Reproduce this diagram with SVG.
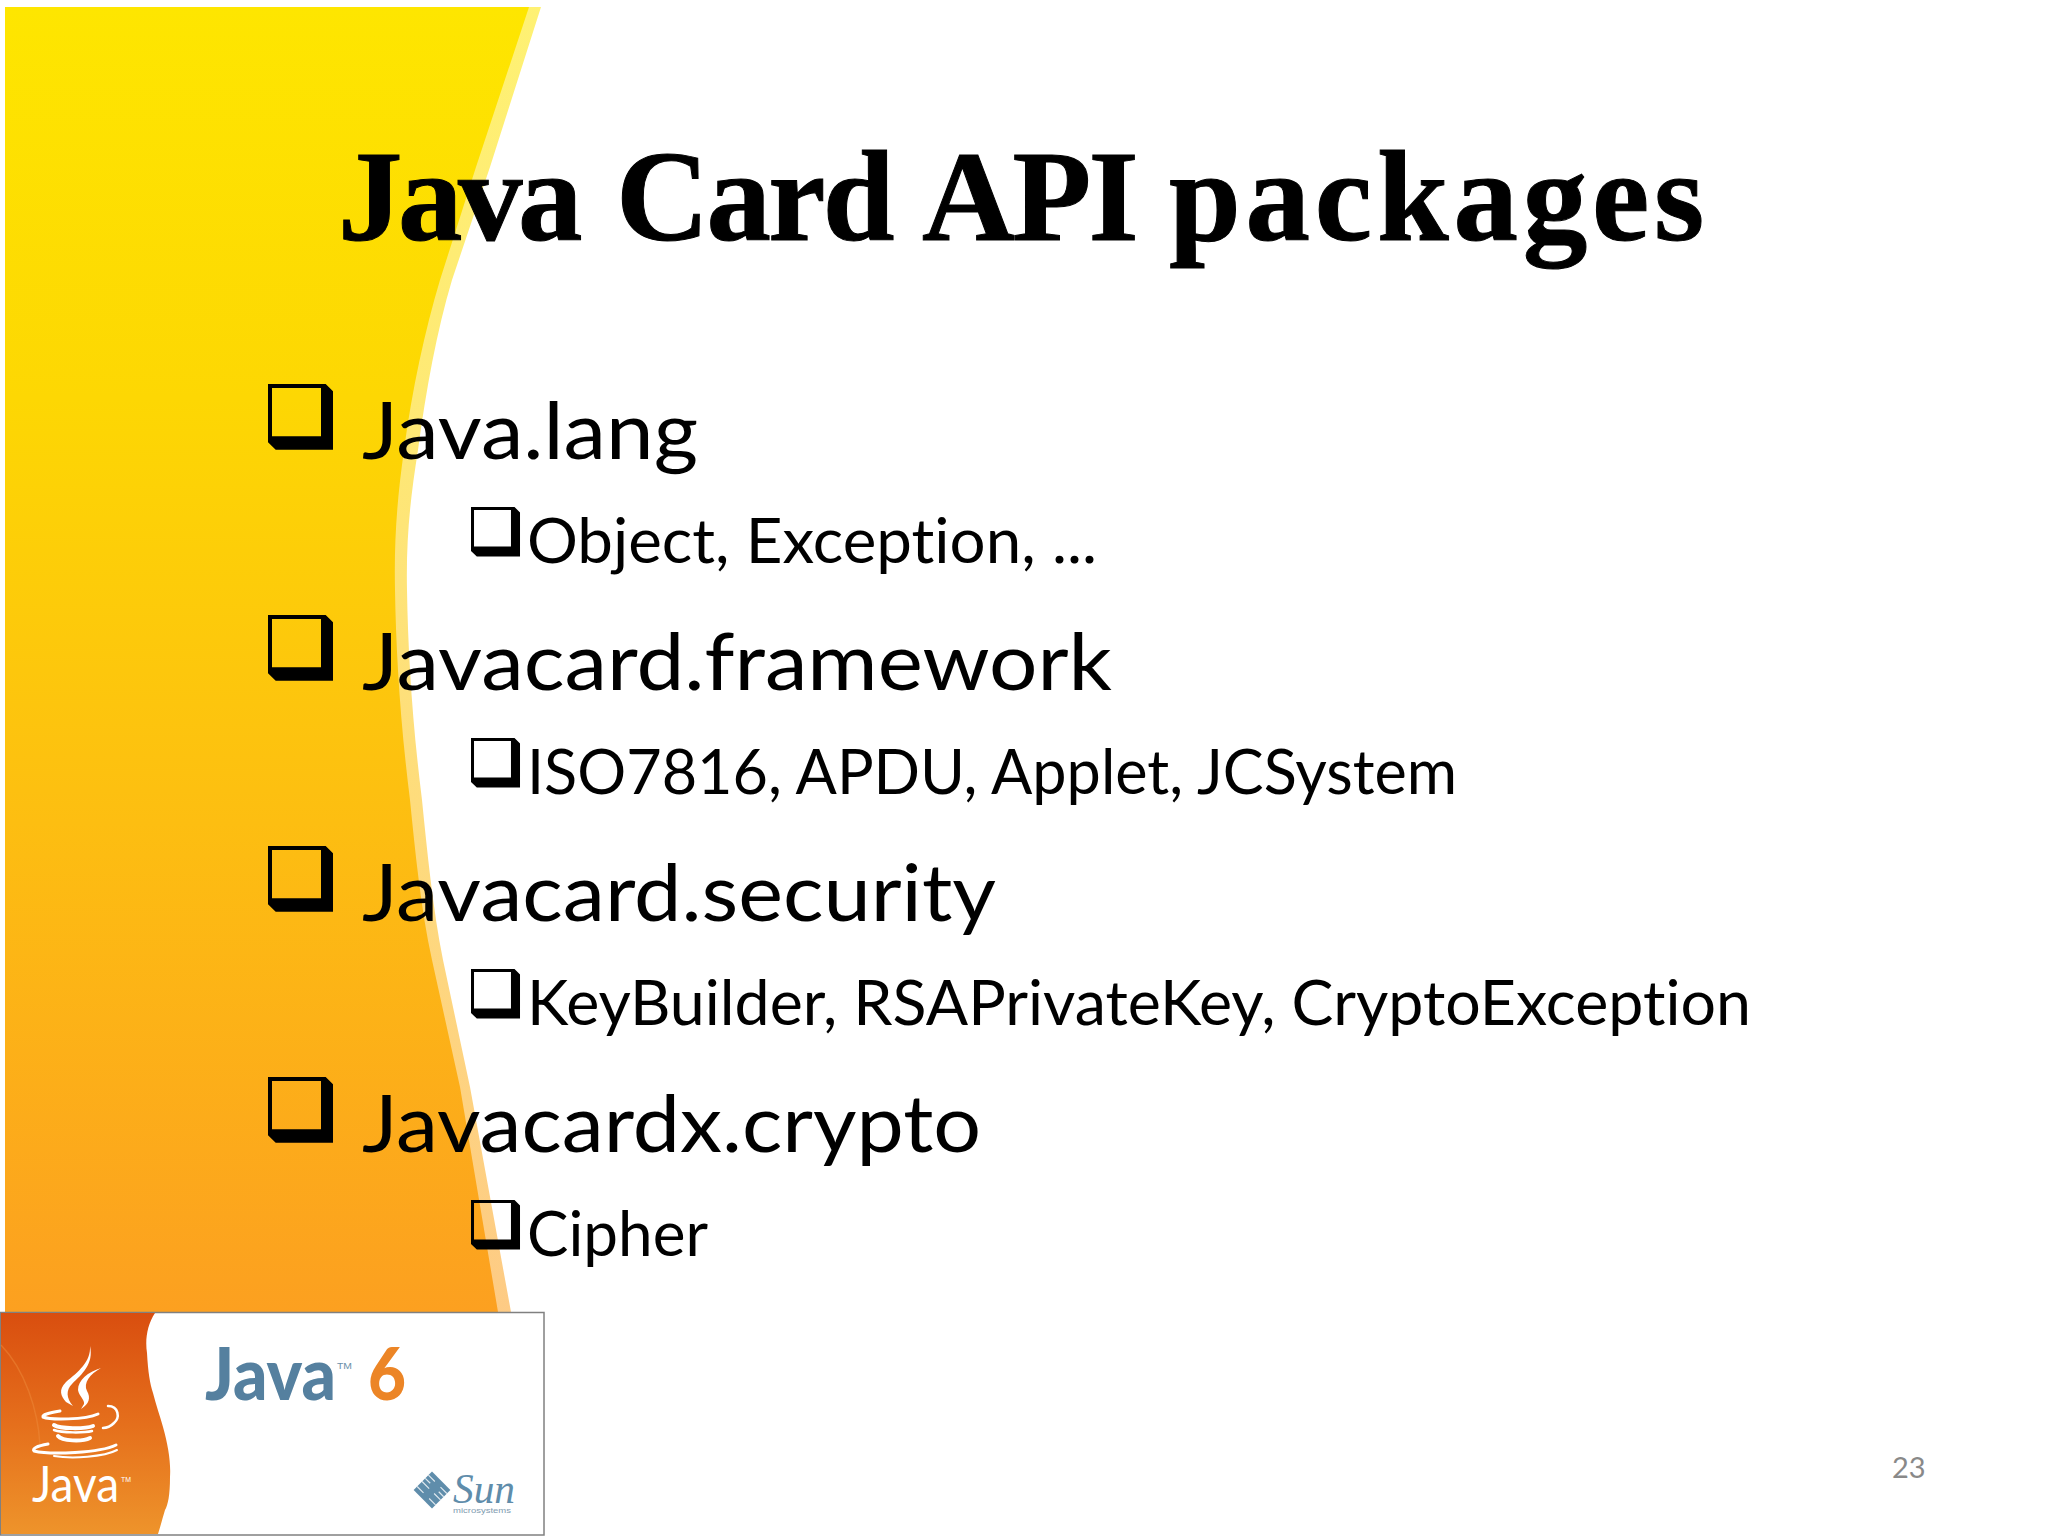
<svg xmlns="http://www.w3.org/2000/svg" width="2048" height="1536" viewBox="0 0 2048 1536">
<style>
.title{font-family:"Liberation Serif",serif;font-weight:700;font-size:129px;fill:#000;stroke:#000;stroke-width:1}
.l1{font-family:Lato,"Liberation Sans",sans-serif;font-size:80px;fill:#000;font-variant-ligatures:none}
.l2{font-family:Lato,"Liberation Sans",sans-serif;font-size:62px;fill:#000;font-variant-ligatures:none}
.num{font-family:Lato,"Liberation Sans",sans-serif;font-size:29px;fill:#898989}
.cw{fill:none;stroke:#fff;stroke-linecap:round}
</style>
<defs>
<linearGradient id="bg" gradientUnits="userSpaceOnUse" x1="0" y1="7" x2="0" y2="1312">
<stop offset="0" stop-color="#fee600"/><stop offset="0.3" stop-color="#fdd703"/><stop offset="0.6" stop-color="#fdc010"/><stop offset="1" stop-color="#fca020"/>
</linearGradient>
<linearGradient id="og" gradientUnits="userSpaceOnUse" x1="0" y1="1313" x2="0" y2="1535">
<stop offset="0" stop-color="#d94e0f"/><stop offset="0.5" stop-color="#e56f1c"/><stop offset="1" stop-color="#ee942b"/>
</linearGradient>
<path id="bx" fill-rule="evenodd" d="M0 0H57.7L65 7.3V65.7H7.7L0 58.3ZM4 4V52.3H53V4Z"/>
</defs>
<rect width="2048" height="1536" fill="#fff"/>
<path d="M5 7H541L490 167L452 280C437 330 426 390 418 450C410 500 406 540 407 590C408 650 412 720 422 800C427 850 433 910 443 960L470 1087L511 1312H5Z" fill="url(#bg)" fill-opacity="0.55"/>
<path d="M5 7H529L476 167L440 280C425 330 412 390 404 450C397 500 394 540 395 590C396 650 400 720 410 800C415 850 421 910 432 960L460 1087L498 1312H5Z" fill="url(#bg)"/>
<text class="title" y="240"><tspan x="338" letter-spacing="-4.5">Java</tspan> <tspan x="616" letter-spacing="-2.7">Card</tspan> <tspan x="922" letter-spacing="-2.7">API</tspan> <tspan x="1169" letter-spacing="4.8">packages</tspan></text>
<use href="#bx" x="268" y="384"/>
<use href="#bx" x="268" y="615"/>
<use href="#bx" x="268" y="846"/>
<use href="#bx" x="268" y="1077"/>
<use href="#bx" transform="translate(471 507) scale(.754)"/>
<use href="#bx" transform="translate(471 738) scale(.754)"/>
<use href="#bx" transform="translate(471 969) scale(.754)"/>
<use href="#bx" transform="translate(471 1200) scale(.754)"/>
<text class="l1" x="362" y="459" textLength="336" lengthAdjust="spacingAndGlyphs">Java.lang</text>
<text class="l1" x="362" y="690" textLength="750" lengthAdjust="spacingAndGlyphs">Javacard.framework</text>
<text class="l1" x="362" y="921" textLength="634" lengthAdjust="spacingAndGlyphs">Javacard.security</text>
<text class="l1" x="362" y="1152" textLength="619" lengthAdjust="spacingAndGlyphs">Javacardx.crypto</text>
<text class="l2" x="527" y="563" textLength="570" lengthAdjust="spacingAndGlyphs">Object, Exception, ...</text>
<text class="l2" x="527" y="794" textLength="930" lengthAdjust="spacingAndGlyphs">ISO7816, APDU, Applet, JCSystem</text>
<text class="l2" x="527" y="1025" textLength="1224" lengthAdjust="spacingAndGlyphs">KeyBuilder, RSAPrivateKey, CryptoException</text>
<text class="l2" x="527" y="1256" textLength="181" lengthAdjust="spacingAndGlyphs">Cipher</text>
<text class="num" x="1892" y="1478">23</text>
<g id="logo">
<rect x="0.5" y="1312.5" width="543.5" height="222.5" fill="#fff" stroke="#808080" stroke-width="1.5"/>
<path d="M1 1313H155C147 1325 145 1340 147 1353C148 1372 150 1384 153 1393C156 1405 160 1416 163 1427C168 1445 171 1462 170 1477C170 1495 168 1505 165 1510C162 1520 160 1528 158 1534H1Z" fill="url(#og)"/>
<path d="M1 1345C25 1370 38 1410 40 1445" fill="none" stroke="#ee8a3a" stroke-width="1.500" opacity=".5"/>
<g>
<path d="M90 1346C91 1362 78 1372 66 1382C58 1390 61 1396 66 1402L73 1406C66 1398 66 1390 72 1384C82 1374 94 1364 90 1346Z" fill="#fff"/>
<path d="M101 1368C88 1372 78 1380 78 1390C79 1396 85 1400 84 1404L81 1409C89 1404 91 1398 87 1391C83 1383 90 1374 101 1368Z" fill="#fff"/>
<path class="cw" stroke-width="3" d="M60 1411C48 1413 42 1415 43 1417C50 1420 85 1420 98 1414"/>
<path class="cw" stroke-width="2.500" d="M108 1406C119 1406 120 1418 114 1423C110 1427 106 1428 103 1428"/>
<path class="cw" stroke-width="4" d="M54 1425C60 1429 85 1429 93 1426"/>
<path class="cw" stroke-width="2.500" d="M54 1430C62 1433 84 1433 92 1431"/>
<path class="cw" stroke-width="4" d="M58 1436C62 1441 82 1442 90 1438"/>
<path class="cw" stroke-width="3" d="M48 1444C36 1446 32 1449 34 1451C50 1455 100 1453 116 1445"/>
<path class="cw" stroke-width="2" d="M54 1456C72 1459 104 1457 117 1450"/>
</g>
<text x="32" y="1502" font-family="Lato,'Liberation Sans',sans-serif" font-size="50" fill="#fff" textLength="87" lengthAdjust="spacingAndGlyphs">Java</text>
<text x="121" y="1482" font-family="'Liberation Sans',sans-serif" font-size="8" fill="#fff" textLength="10" lengthAdjust="spacingAndGlyphs">TM</text>
<text x="205" y="1400" font-family="Lato,'Liberation Sans',sans-serif" font-weight="900" font-size="72" fill="#55809f" textLength="131" lengthAdjust="spacingAndGlyphs">Java</text>
<text x="337" y="1369" font-family="'Liberation Sans',sans-serif" font-size="9" fill="#6b90aa" textLength="15" lengthAdjust="spacingAndGlyphs">TM</text>
<text x="368" y="1400" font-family="Lato,'Liberation Sans',sans-serif" font-weight="900" font-size="72" fill="#ec8526" textLength="38" lengthAdjust="spacingAndGlyphs">6</text>
<g transform="rotate(45 432 1490)">
<rect x="419" y="1477" width="26" height="26" fill="#5f8dab"/>
<path d="M419 1482H428M419 1486.500H426M419 1491H429M436 1482H445M438 1486.500H445M436 1491H445M419 1498H428M436 1498H445" stroke="#fff" stroke-width="1.200" opacity=".8"/>
</g>
<text x="453" y="1503" font-family="'Liberation Serif',serif" font-style="italic" font-size="42" fill="#5f8dab" textLength="62" lengthAdjust="spacingAndGlyphs">Sun</text>
<text x="453" y="1513" font-family="'Liberation Sans',sans-serif" font-size="8" fill="#7f9cb0" textLength="58" lengthAdjust="spacingAndGlyphs">microsystems</text>
</g>
</svg>
